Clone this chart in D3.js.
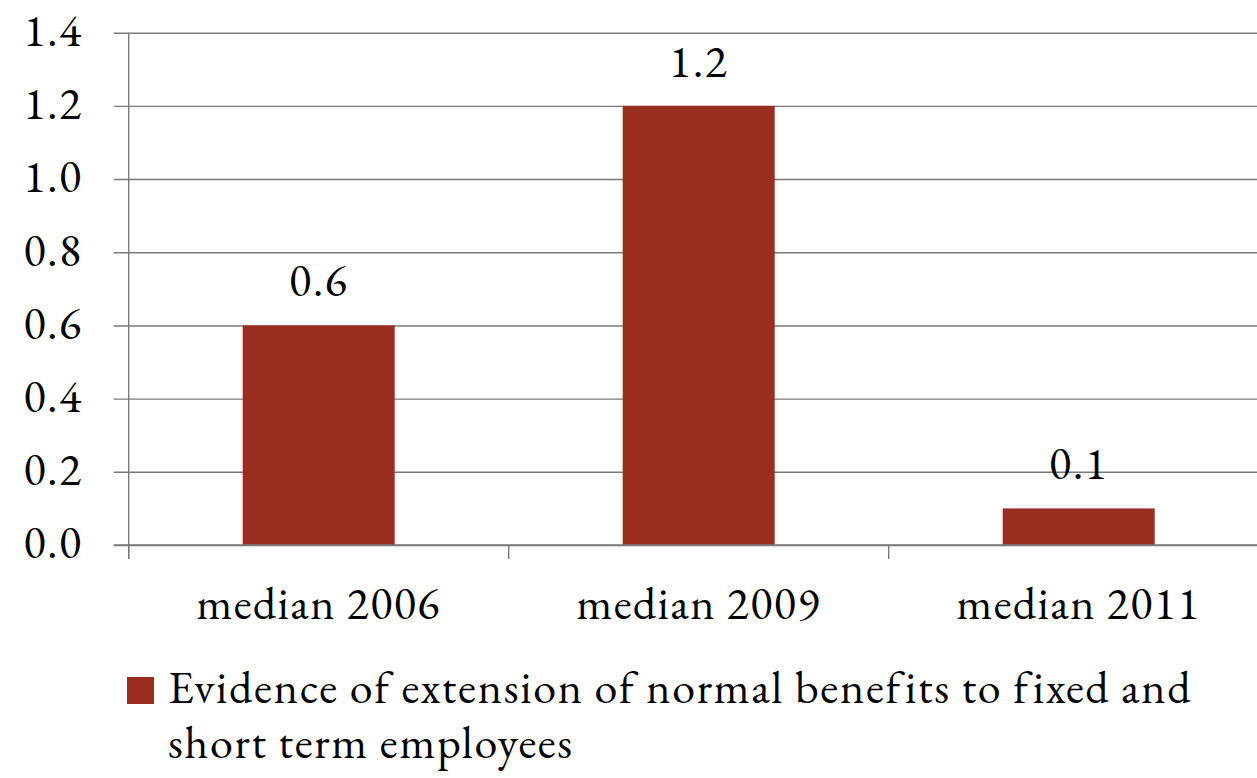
<!DOCTYPE html>
<html>
<head>
<meta charset="utf-8">
<script src="https://cdn.jsdelivr.net/npm/d3@7/dist/d3.min.js"></script>
<style>
  html, body { margin: 0; padding: 0; background: #fff; }
  svg { display: block; }
  text { font-family: "EB Garamond", "Liberation Serif", serif; fill: #000; }
</style>
</head>
<body>
<svg id="chart" width="1257" height="778"></svg>
<script>
// Chart data
const categories = ["median 2006", "median 2009", "median 2011"];
const seriesName = "Evidence of extension of normal benefits to fixed and short term employees";
const values = [0.6, 1.2, 0.1];
const yTicks = [0, 0.2, 0.4, 0.6, 0.8, 1.0, 1.2, 1.4];

const barColor = "#992d20";
const lineColor = "#7a7a7a";
const fontFamily = '"EB Garamond", "Liberation Serif", serif';
const fontSize = 46;
const spacing = 1.5;

const svg = d3.select("#chart");

// Plot area (the right edge runs past the visible canvas)
const plot = { left: 128.7, right: 1268.7, top: 32.7, bottom: 545 };

const y = d3.scaleLinear().domain([0, 1.4]).range([plot.bottom, plot.top]);
const xBand = d3.scaleBand().domain(categories).range([plot.left, plot.right])
  .paddingInner(0.6).paddingOuter(0.3);
const xCell = d3.scaleBand().domain(categories).range([plot.left, plot.right]).padding(0);

// Horizontal gridlines with left tick stubs
const yAxis = d3.axisLeft(y).tickValues(yTicks)
  .tickSize(-(plot.right - plot.left) - 15)
  .tickFormat(d3.format(".1f"))
  .tickPadding(31);
const gy = svg.append("g").attr("transform", `translate(${plot.left - 15},0)`).call(yAxis);
gy.attr("font-family", null).attr("font-size", null);
gy.select(".domain").remove();
gy.selectAll(".tick line").attr("stroke", lineColor).attr("stroke-width", 1.4);
gy.selectAll(".tick text")
  .attr("font-size", fontSize)
  .attr("letter-spacing", spacing)
  .attr("dy", "0.28em")
  .style("font-family", fontFamily);

// Bars
svg.append("g").selectAll("rect").data(values).join("rect")
  .attr("x", (d, i) => xBand(categories[i]))
  .attr("width", xBand.bandwidth())
  .attr("y", d => y(d))
  .attr("height", d => y(0) - y(d))
  .attr("fill", barColor);

// Value labels
svg.append("g").selectAll("text").data(values).join("text")
  .attr("x", (d, i) => xBand(categories[i]) + xBand.bandwidth() / 2)
  .attr("y", d => y(d) - 29)
  .attr("text-anchor", "middle")
  .attr("font-size", fontSize)
  .attr("letter-spacing", spacing)
  .style("font-family", fontFamily)
  .text(d => d3.format(".1f")(d));

// Category axis: baseline, boundary ticks, labels
const xAxis = d3.axisBottom(xCell).tickSize(0).tickPadding(0);
const gx = svg.append("g").attr("transform", `translate(0,${plot.bottom})`).call(xAxis);
gx.attr("font-family", null).attr("font-size", null);
gx.select(".domain").attr("d", `M${plot.left - 15},0H${plot.right}`)
  .attr("stroke", lineColor).attr("stroke-width", 1.4);
gx.selectAll(".tick line").remove();
gx.selectAll(".tick text")
  .attr("y", 619 - plot.bottom)
  .attr("dy", 0)
  .attr("font-size", fontSize)
  .attr("letter-spacing", spacing)
  .style("font-family", fontFamily);

const boundaries = categories.map(c => xCell(c)).concat([plot.right]);
svg.append("g").selectAll("line").data(boundaries).join("line")
  .attr("x1", d => d).attr("x2", d => d)
  .attr("y1", plot.bottom).attr("y2", plot.bottom + 14)
  .attr("stroke", lineColor).attr("stroke-width", 1.4);

// Vertical axis line
svg.append("line")
  .attr("x1", plot.left).attr("x2", plot.left)
  .attr("y1", plot.top).attr("y2", plot.bottom + 14)
  .attr("stroke", lineColor).attr("stroke-width", 1.4);

// Legend
const legend = svg.append("g");
legend.append("rect")
  .attr("x", 127).attr("y", 677).attr("width", 27).attr("height", 27)
  .attr("fill", barColor);
const legendLines = ["Evidence of extension of normal benefits to fixed and", "short term employees"];
legend.append("text")
  .attr("x", 168).attr("y", 703)
  .attr("font-size", fontSize)
  .attr("letter-spacing", 1.7)
  .style("font-family", fontFamily)
  .selectAll("tspan").data(legendLines).join("tspan")
  .attr("x", 168)
  .attr("dy", (d, i) => i === 0 ? 0 : 55)
  .text(d => d);
</script>
</body>
</html>
